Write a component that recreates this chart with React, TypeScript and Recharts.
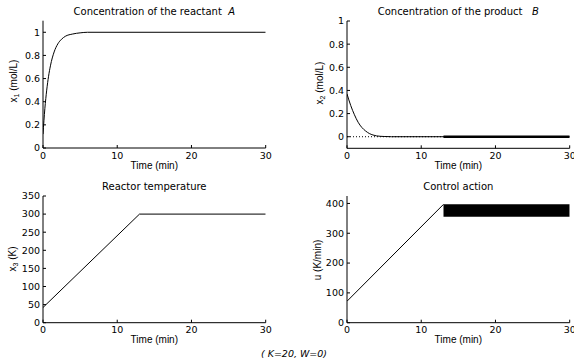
import React from 'react';
import { ComposedChart, Line, Area, XAxis, YAxis } from 'recharts';

const TICK_FONT = '"DejaVu Sans", sans-serif';
const LABEL_FONT = '"Liberation Sans", Arial, sans-serif';

const timeTicks = [0, 10, 20, 30];

// reactant A concentration x1
const reactantTime = [0, 0.25, 0.5, 0.75, 1, 1.5, 2, 2.5, 3, 4, 5, 6, 30];
const reactantConc = [0.12, 0.34, 0.5, 0.62, 0.71, 0.83, 0.9, 0.94, 0.965, 0.985, 0.995, 1, 1];
const reactantTicks = [0, 0.2, 0.4, 0.6, 0.8, 1];

// product B concentration x2
const productTime = [0, 0.5, 1, 1.5, 2, 2.5, 3, 3.5, 4, 5, 6, 13];
const productConc = [0.37, 0.27, 0.19, 0.125, 0.08, 0.05, 0.028, 0.015, 0.007, 0.002, 0, 0];
const productChatterTime = [13, 30];
const productChatterConc = [0, 0];
const productSetTime = [0, 30];
const productSetConc = [0, 0];
const productTicks = [0, 0.2, 0.4, 0.6, 0.8, 1];

// reactor temperature x3
const tempTime = [0, 13, 30];
const tempValue = [42, 300, 300];
const tempTicks = [0, 50, 100, 150, 200, 250, 300, 350];

// control action u
const controlTime = [0, 13];
const controlValue = [72, 397];
const chatterTime = [13, 30];
const chatterLow = [355, 355];
const chatterHigh = [397, 397];
const controlTicks = [0, 100, 200, 300, 400];

const zip = (ts: number[], vs: number[]) => ts.map((t, i) => ({ t, v: vs[i] }));

const reactantData = zip(reactantTime, reactantConc);
const productData = zip(productTime, productConc);
const productChatterData = zip(productChatterTime, productChatterConc);
const productSetData = zip(productSetTime, productSetConc);
const tempData = zip(tempTime, tempValue);
const controlData = zip(controlTime, controlValue);
const chatterData = chatterTime.map((t, i) => ({ t, band: [chatterLow[i], chatterHigh[i]] }));

const axisLine = { stroke: '#000', strokeWidth: 1 };
const tickStyle = { fontSize: 9.5, fill: '#000', fontFamily: TICK_FONT };

function frameAxes(yDomain: number[], yTicks: number[]) {
  return [
    <XAxis key="xb" xAxisId="b" type="number" dataKey="t" domain={[0, 30]} ticks={timeTicks}
      interval={0} allowDataOverflow height={22} tickSize={-3} tickMargin={7}
      tick={tickStyle} axisLine={axisLine} tickLine={axisLine} />,
    <XAxis key="xt" xAxisId="t" orientation="top" type="number" dataKey="t" domain={[0, 30]}
      ticks={timeTicks} interval={0} allowDataOverflow height={0} tickSize={-3}
      tick={false} axisLine={axisLine} tickLine={axisLine} />,
    <YAxis key="yl" yAxisId="l" type="number" domain={yDomain} ticks={yTicks} interval={0}
      allowDataOverflow width={30} tickSize={-3} tickMargin={6}
      tick={tickStyle} axisLine={axisLine} tickLine={axisLine} />,
    <YAxis key="yr" yAxisId="r" orientation="right" type="number" domain={yDomain} ticks={yTicks}
      interval={0} allowDataOverflow width={0} tickSize={-3}
      tick={false} axisLine={axisLine} tickLine={axisLine} />,
  ];
}

const seriesProps = {
  xAxisId: 'b',
  yAxisId: 'l',
  dataKey: 'v',
  dot: false,
  activeDot: false,
  stroke: '#000',
  strokeWidth: 1,
  isAnimationActive: false,
};

const NB = '\u00A0';

export default function App() {
  return (
    <div style={{ position: 'absolute', left: 0, top: 0, width: 574, height: 360, background: '#fff', overflow: 'hidden' }}>
      {/* top-left: reactant A */}
      <div style={{ position: 'absolute', left: 0, top: 0 }}>
        <ComposedChart width={287} height={175} margin={{ top: 20.7, right: 21.3, bottom: 5, left: 13 }}>
          {frameAxes([0, 1.1], reactantTicks)}
          <Line {...seriesProps} data={reactantData} type="monotone" />
        </ComposedChart>
      </div>

      {/* top-right: product B */}
      <div style={{ position: 'absolute', left: 287, top: 0 }}>
        <ComposedChart width={287} height={175} margin={{ top: 21, right: 4.3, bottom: 4.7, left: 30 }}>
          {frameAxes([-0.1, 1], productTicks)}
          <Line {...seriesProps} data={productSetData} type="linear" strokeDasharray="1 2" />
          <Line {...seriesProps} data={productData} type="monotone" />
          <Line {...seriesProps} data={productChatterData} type="linear" strokeWidth={2.5} />
        </ComposedChart>
      </div>

      {/* bottom-left: reactor temperature */}
      <div style={{ position: 'absolute', left: 0, top: 175 }}>
        <ComposedChart width={287} height={185} margin={{ top: 21, right: 21.3, bottom: 15.3, left: 13 }}>
          {frameAxes([0, 350], tempTicks)}
          <Line {...seriesProps} data={tempData} type="linear" />
        </ComposedChart>
      </div>

      {/* bottom-right: control action */}
      <div style={{ position: 'absolute', left: 287, top: 175 }}>
        <ComposedChart width={287} height={185} margin={{ top: 21, right: 4.3, bottom: 15.3, left: 30 }}>
          {frameAxes([0, 425], controlTicks)}
          <Area xAxisId="b" yAxisId="l" data={chatterData} dataKey="band" type="linear"
            stroke="none" fill="#000" fillOpacity={1} activeDot={false} isAnimationActive={false} />
          <Line {...seriesProps} data={controlData} type="linear" />
        </ComposedChart>
      </div>

      {/* titles, axis labels, footnote */}
      <svg width={574} height={360} style={{ position: 'absolute', left: 0, top: 0, pointerEvents: 'none' }}>
        <g fontFamily={TICK_FONT} fontSize={10} fill="#000" textAnchor="middle">
          <text x={154.3} y={14.5}>{`Concentration of the reactant${NB}${NB}`}<tspan fontStyle="italic">A</tspan></text>
          <text x={458.3} y={14.5}>{`Concentration of the product${NB}${NB}${NB}`}<tspan fontStyle="italic">B</tspan></text>
          <text x={154.3} y={189.5}>Reactor temperature</text>
          <text x={458.3} y={189.5}>Control action</text>
        </g>
        <g fontFamily={LABEL_FONT} fontSize={10} fill="#000" textAnchor="middle">
          <text x={154.3} y={168.5}>Time (min)</text>
          <text x={458.3} y={168.5}>Time (min)</text>
          <text x={154.3} y={343.2}>Time (min)</text>
          <text x={458.3} y={343.2}>Time (min)</text>
          <text transform="translate(16.5,81) rotate(-90)">
            x<tspan dy={2} fontSize={7}>1</tspan><tspan dy={-2}>{`${NB}(mol/L)`}</tspan>
          </text>
          <text transform="translate(322.5,83) rotate(-90)">
            x<tspan dy={2} fontSize={7}>2</tspan><tspan dy={-2}>{`${NB}(mol/L)`}</tspan>
          </text>
          <text transform="translate(16,259) rotate(-90)">
            x<tspan dy={2} fontSize={7}>3</tspan><tspan dy={-2}>{`${NB}(K)`}</tspan>
          </text>
          <text transform="translate(320.5,260) rotate(-90)">u (K/min)</text>
        </g>
        <text x={294} y={356.5} fontFamily={TICK_FONT} fontSize={9.5} fontStyle="italic" textAnchor="middle">
          {`(${NB}K=20, W=0)`}
        </text>
      </svg>
    </div>
  );
}
